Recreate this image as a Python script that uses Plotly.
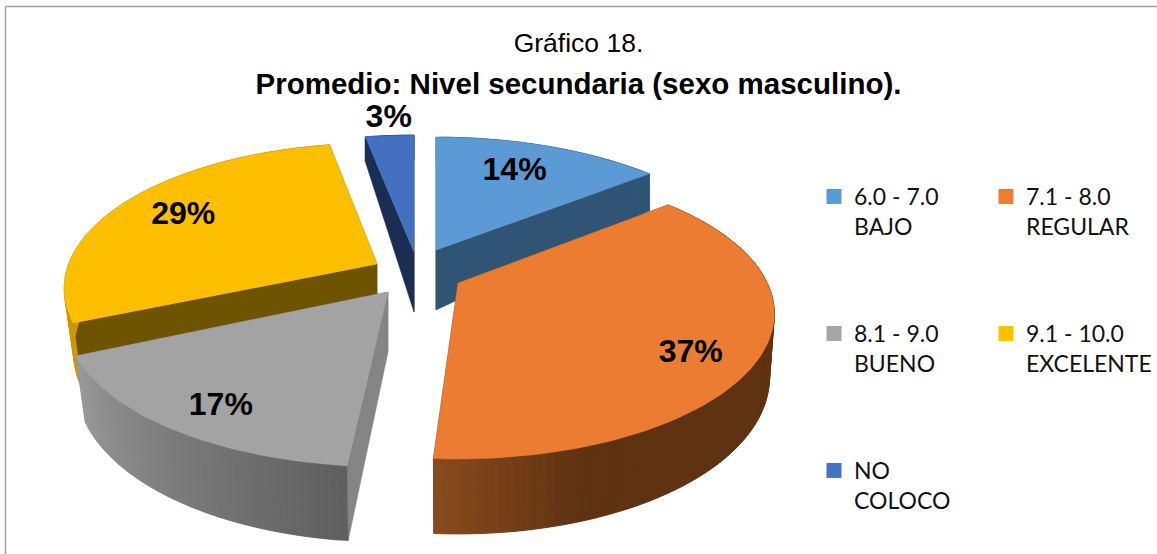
import math
import plotly.graph_objects as go

# ---- data ----
categories = ["6.0 - 7.0<br>BAJO", "7.1 - 8.0<br>REGULAR", "8.1 - 9.0<br>BUENO",
              "9.1 - 10.0<br>EXCELENTE", "NO<br>COLOCO"]
values = [14, 37, 17, 29, 3]
title_line = "Gráfico 18."
subtitle_line = "Promedio: Nivel secundaria (sexo masculino)."

# ---- styling ----
top_colors = ["#5B9BD5", "#ED7D31", "#A5A5A5", "#FFC000", "#4472C4"]
drawn_top = ["#5B9AD5", "#EB7C31", "#A3A3A3", "#FDBF00", "#4370C0"]
face_colors = ["#305574", "#5F3212", "#858585", "#6E5300", "#1A2D52"]
side_light = ["#305574", "#8A4C1E", "#9A9A9A", "#D09A00", "#1A2D52"]
side_dark = ["#305574", "#5F3212", "#5F5F5F", "#B88700", "#1A2D52"]
label_radius = [0.70, 0.78, 0.83, 0.75, 1.25]
label_nudge = [(-4, 0), (-3, 18), (4, 4), (2, -4), (4, 4)]
pull_px = [(26, -22), (48, 11), (-22, 20), (-33, -8), (4, -20)]
rim_scale_x = [1.0, 0.985, 1.0, 0.974, 1.0]
rim_shift_y = [2, 0, -1, -6, -2]
rim_start_skew = [0, 0, 0.0065, 0, 0]
wall_inset = [1.0, 0.985, 0.97, 0.97, 1.0]
paint_order = [4, 3, 0, 2, 1]
legend_pos = [(0, 814, 175), (1, 986, 175), (2, 814, 312), (3, 986, 312), (4, 814, 449)]
CX, CY, RX, RY, TILT = 410, 272, 314, 139, 0.21


def project(frac, r=1.0):
    t = 2 * math.pi * frac
    u, v = r * math.sin(t), r * math.cos(t)
    w = 1 + TILT * v
    return RX * u / w, -RY * v / w, v


def drop(v):
    return 60 - 25.5 * v - 10.5 * abs(v)


def mix(c1, c2, k):
    k = min(1.0, max(0.0, k))
    a = [int(c1[i:i + 2], 16) for i in (1, 3, 5)]
    b = [int(c2[i:i + 2], 16) for i in (1, 3, 5)]
    return "rgb(" + ",".join(str(round(p + (q - p) * k)) for p, q in zip(a, b)) + ")"


def poly(xs, ys, color):
    return go.Scatter(x=xs + xs[:1], y=ys + ys[:1], mode="lines", fill="toself", fillcolor=color,
                      line=dict(color=color, width=0.5), hoverinfo="skip", showlegend=False)


starts, total, acc = [], sum(values), 0
for val in values:
    starts.append(acc / total)
    acc += val

fig = go.Figure()
for i in paint_order:
    f0, f1 = starts[i] + rim_start_skew[i], starts[i] + values[i] / total
    ax, ay = CX + pull_px[i][0], CY + pull_px[i][1]
    n = max(6, values[i] * 3)
    fr = [f0 + (f1 - f0) * j / n for j in range(n + 1)]
    rim = [project(f) for f in fr]
    top_x = [ax + p[0] * rim_scale_x[i] for p in rim]
    top_y = [ay + p[1] + rim_shift_y[i] for p in rim]
    bot_x = [ax + (tx - ax) * wall_inset[i] for tx in top_x]
    bot_y = [ty + drop(p[2]) for ty, p in zip(top_y, rim)]
    # cut faces
    for e in (0, n):
        fig.add_trace(poly([ax, top_x[e], bot_x[e], ax],
                           [ay, top_y[e], bot_y[e], ay + drop(0)], face_colors[i]))
    # outer wall, shaded strip by strip; strips overlap so no seams show
    for j in range(n):
        e = min(j + 2, n)
        if i == 1:
            shade = mix(side_light[i], side_dark[i], (top_x[j] - (ax - 25)) / 155)
        elif i == 2:
            shade = mix(side_dark[i], side_light[i], (j + 0.5) / n)
        else:
            shade = mix(side_light[i], side_dark[i], (j + 0.5) / n)
        fig.add_trace(poly([top_x[j], top_x[e], bot_x[e], bot_x[j]],
                           [top_y[j], top_y[e], bot_y[e], bot_y[j]], shade))
    fig.add_trace(poly([ax] + top_x, [ay] + top_y, drawn_top[i]))

# percentage labels
lab_x, lab_y, lab_t = [], [], []
for i, val in enumerate(values):
    mid = starts[i] + val / total / 2
    px_, py_, _ = project(mid, label_radius[i])
    lab_x.append(CX + pull_px[i][0] + px_ + label_nudge[i][0])
    lab_y.append(CY + pull_px[i][1] + py_ + label_nudge[i][1])
    lab_t.append(f"<b>{val}%</b>")
fig.add_trace(go.Scatter(x=lab_x, y=lab_y, text=lab_t, mode="text", hoverinfo="skip", showlegend=False,
                         textfont=dict(family="Liberation Sans", size=32, color="#000000"),
                         textposition="middle center"))

# legends
layout_legends = {}
for k, (i, lx, ly) in enumerate(legend_pos):
    name = "legend" if k == 0 else f"legend{k + 1}"
    fig.add_trace(go.Scatter(x=[None], y=[None], mode="markers", name=categories[i], legend=name,
                             marker=dict(symbol="square", size=15, color=top_colors[i])))
    layout_legends[name] = dict(x=lx / 1157, y=1 - ly / 554, xanchor="left", yanchor="top",
                                bgcolor="rgba(0,0,0,0)", valign="top", itemclick=False,
                                font=dict(family="Lato", size=23, color="#111111"))

fig.update_layout(
    width=1157, height=554, autosize=False,
    margin=dict(l=0, r=0, t=0, b=0, autoexpand=False),
    paper_bgcolor="#FFFFFF", plot_bgcolor="#FFFFFF",
    xaxis=dict(range=[0, 1157], visible=False, fixedrange=True),
    yaxis=dict(range=[554, 0], visible=False, fixedrange=True),
    title=dict(text=f"<span style='font-size:26.5px'>{title_line}</span><br>"
                    f"<b style='font-size:29.5px'>{subtitle_line}</b>",
               x=0.5, xanchor="center", y=0.906, yanchor="top",
               font=dict(family="Liberation Sans", size=32, color="#000000")),
    shapes=[dict(type="line", xref="x", yref="y", x0=5.5, x1=1157, y0=6.5, y1=6.5,
                 line=dict(color="#A0A0A0", width=1.5)),
            dict(type="line", xref="x", yref="y", x0=5.5, x1=5.5, y0=6.5, y1=554,
                 line=dict(color="#A0A0A0", width=1.5))],
    **layout_legends,
)
fig.write_html("out.html", config={"displayModeBar": False},
               post_script="document.body.style.margin='0';document.documentElement.style.overflow='hidden';")
